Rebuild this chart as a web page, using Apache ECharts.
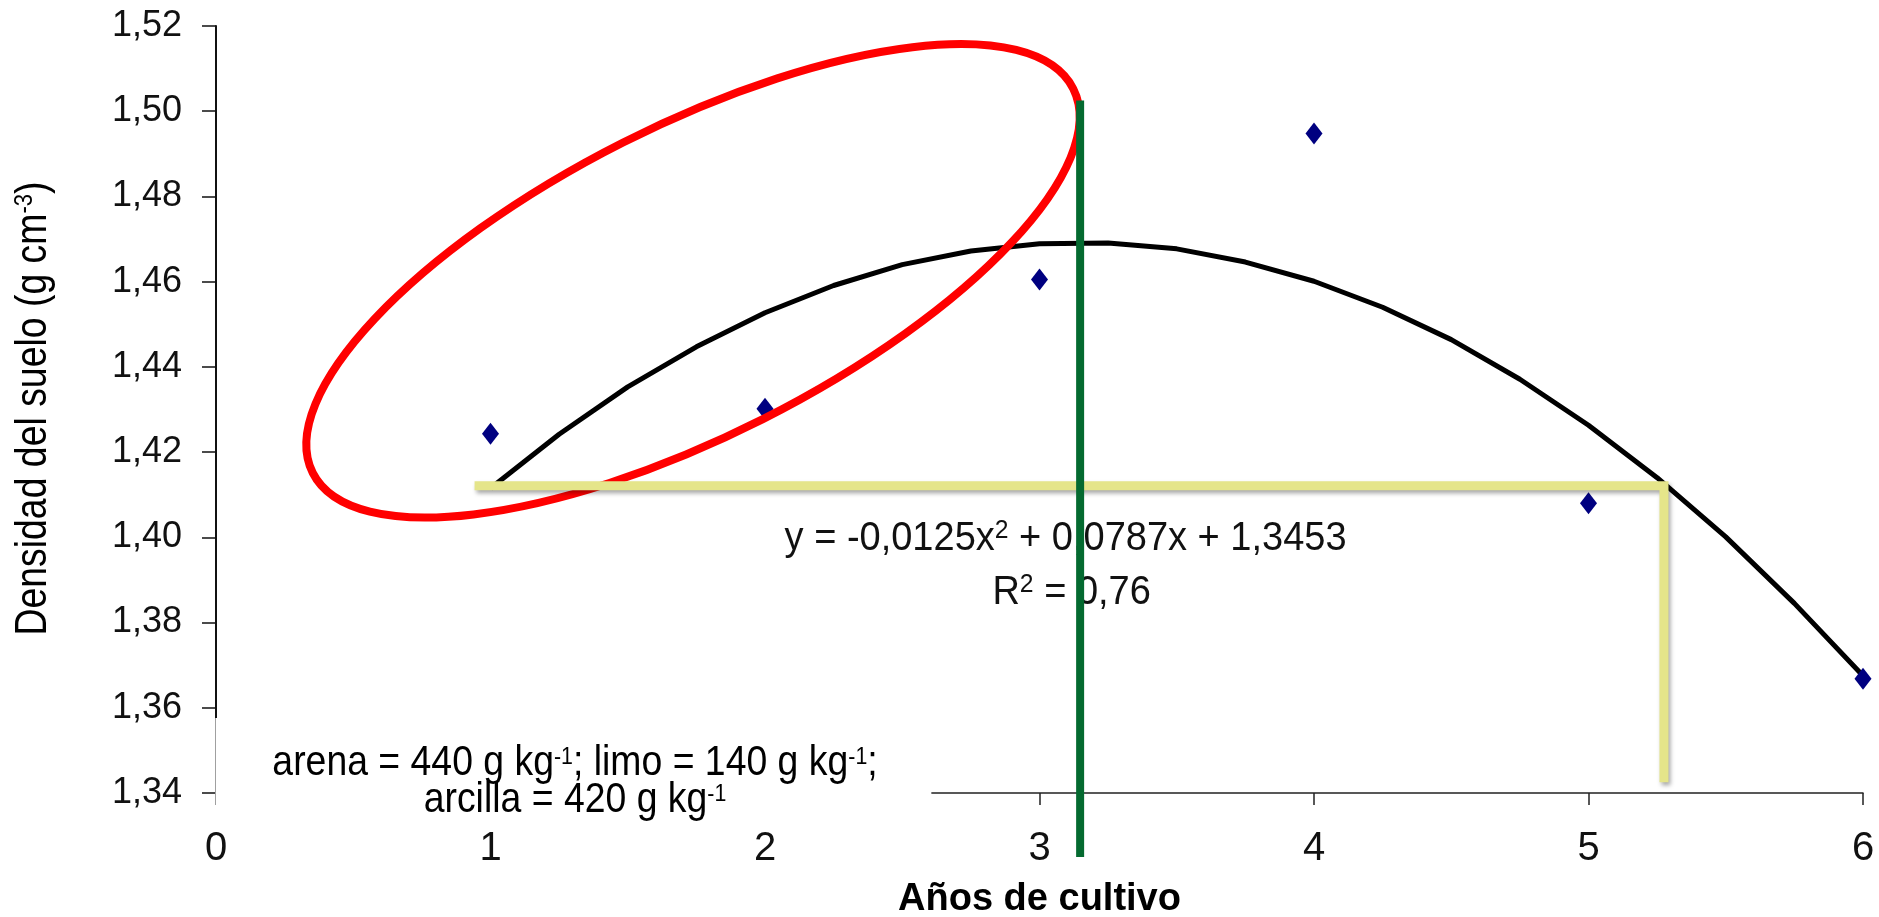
<!DOCTYPE html>
<html>
<head>
<meta charset="utf-8">
<script src="https://cdn.jsdelivr.net/npm/echarts@6/dist/echarts.min.js"></script>
<style>
  html, body { margin: 0; padding: 0; background: #fff; }
  #chart { width: 1879px; height: 917px; }
</style>
</head>
<body>
<div id="chart"></div>
<script>
// ---- data ----
var years   = [1, 2, 3, 4, 5, 6];
var density = [1.4243, 1.4302, 1.4605, 1.4948, 1.4080, 1.3668];

// fitted curve as drawn (read every quarter year)
var trendX = [1, 1.25, 1.5, 1.75, 2, 2.25, 2.5, 2.75, 3, 3.25, 3.5,
              3.75, 4, 4.25, 4.5, 4.75, 5, 5.25, 5.5, 5.75, 6];
var trendY = [1.4115, 1.4242, 1.4353, 1.4447, 1.4527, 1.4591, 1.4640,
              1.4672, 1.4689, 1.4691, 1.4677, 1.4646, 1.4601, 1.4540,
              1.4464, 1.4371, 1.4263, 1.4140, 1.4001, 1.3845, 1.3675];

var xTicks = [0, 1, 2, 3, 4, 5, 6];
var yTicks = [1.34, 1.36, 1.38, 1.40, 1.42, 1.44, 1.46, 1.48, 1.50, 1.52];

// hand-drawn guide lines (data coords)
var greenLine  = [[3.148, 1.5025], [3.148, 1.325]];
var yellowLine = [[0.942, 1.4121], [5.275, 1.4121], [5.275, 1.3425]];

var ellipseCenter = [1.7377, 1.4602];

var chart = echarts.init(document.getElementById('chart'));
var FONT = "'Liberation Sans', Arial, sans-serif";

var option = {
  animation: false,
  backgroundColor: '#fff',
  grid: { left: 216, right: 16, top: 26, bottom: 124, outerBoundsMode: 'none' },
  xAxis: {
    type: 'value',
    min: xTicks[0],
    max: xTicks[xTicks.length - 1],
    interval: 1,
    name: 'Años de cultivo',
    nameLocation: 'middle',
    nameGap: 88,
    nameTextStyle: { fontFamily: FONT, fontSize: 38, fontWeight: 'bold', color: '#000' },
    axisLine: { lineStyle: { color: '#222', width: 1.5 } },
    axisTick: { inside: false, length: 12, lineStyle: { color: '#222', width: 1.5 } },
    axisLabel: { margin: 36, fontFamily: FONT, fontSize: 40, color: '#111' },
    splitLine: { show: false }
  },
  yAxis: {
    type: 'value',
    min: yTicks[0],
    max: yTicks[yTicks.length - 1],
    interval: 0.02,
    axisLine: { lineStyle: { color: '#111', width: 2 } },
    axisTick: { length: 14, lineStyle: { color: '#111', width: 1.5 } },
    axisLabel: {
      margin: 34, fontFamily: FONT, fontSize: 36, color: '#111',
      formatter: function (v) { return v.toFixed(2).replace('.', ','); }
    },
    splitLine: { show: false }
  },
  series: [
    {
      name: 'curva',
      type: 'line',
      data: trendX.map(function (x, i) { return [x, trendY[i]]; }),
      showSymbol: false,
      lineStyle: { color: '#000', width: 5 },
      z: 2
    },
    {
      name: 'densidad',
      type: 'scatter',
      symbol: 'diamond',
      symbolSize: [17, 22],
      itemStyle: { color: '#000080', opacity: 1 },
      data: years.map(function (x, i) { return [x, density[i]]; }),
      z: 3
    },
    {
      name: 'amarilla',
      type: 'line',
      data: yellowLine,
      showSymbol: false,
      clip: false,
      lineStyle: {
        color: '#e5e58a', width: 9, cap: 'butt', join: 'miter',
        shadowColor: 'rgba(0,0,0,0.35)', shadowBlur: 4, shadowOffsetX: 2, shadowOffsetY: 3
      },
      z: 5
    }
  ]
};
chart.setOption(option);

function px(x, y) { return chart.convertToPixel({ gridIndex: 0 }, [x, y]); }

var c = px(ellipseCenter[0], ellipseCenter[1]);
var g0 = px(greenLine[0][0], greenLine[0][1]);
var g1 = px(greenLine[1][0], greenLine[1][1]);
var eq = px(3.095, 1.3997);
var r2 = px(3.117, 1.3870);
var boxTL = px(0, 1.3576);
var boxBR = px(2.606, 1.34);
var yMid = px(0, 1.43);

var supStyle = { fontFamily: FONT, fontSize: 26, fill: '#111', verticalAlign: 'top', padding: [0, 0, 16, 0] };

chart.setOption({
  graphic: [
    {
      type: 'ellipse',
      x: c[0], y: c[1],
      rotation: 26.8 * Math.PI / 180,
      shape: { cx: 0, cy: 0, rx: 426, ry: 155 },
      style: { fill: 'none', stroke: '#ff0000', lineWidth: 8 },
      z: 4
    },
    {
      type: 'line',
      shape: { x1: g0[0], y1: g0[1], x2: g1[0], y2: g1[1] },
      style: { stroke: '#046a30', lineWidth: 8, lineCap: 'butt' },
      z: 8
    },
    {
      type: 'text',
      x: 34, y: yMid[1] - 1,
      rotation: Math.PI / 2,
      scaleX: 0.85,
      style: {
        text: '{t|Densidad del suelo (g cm}{s|-3}{t|)}',
        align: 'center', verticalAlign: 'middle',
        rich: {
          t: { fontFamily: FONT, fontSize: 44, fill: '#000' },
          s: { fontFamily: FONT, fontSize: 26, fill: '#000', verticalAlign: 'top', padding: [0, 0, 18, 0] }
        }
      },
      z: 5
    },
    {
      type: 'text',
      x: eq[0], y: eq[1],
      scaleX: 0.95,
      style: {
        text: '{t|y = -0,0125x}{s|2}{t| + 0,0787x + 1,3453}',
        align: 'center', verticalAlign: 'middle',
        rich: { t: { fontFamily: FONT, fontSize: 40, fill: '#111' }, s: supStyle }
      },
      z: 5
    },
    {
      type: 'text',
      x: r2[0], y: r2[1],
      scaleX: 0.95,
      style: {
        text: '{t|R}{s|2}{t| = 0,76}',
        align: 'center', verticalAlign: 'middle',
        rich: { t: { fontFamily: FONT, fontSize: 40, fill: '#111' }, s: supStyle }
      },
      z: 5
    },
    {
      type: 'rect',
      shape: { x: boxTL[0], y: boxTL[1], width: boxBR[0] - boxTL[0], height: boxBR[1] - boxTL[1] + 19 },
      style: { fill: '#fff' },
      z: 20
    },
    {
      type: 'rect',
      shape: { x: boxTL[0] - 1, y: boxTL[1], width: 1, height: boxBR[1] - boxTL[1] + 12 },
      style: { fill: '#a0a0a0' },
      z: 21
    },
    {
      type: 'text',
      x: 575, y: 782,
      scaleX: 0.89,
      style: {
        text: '{t|arena = 440 g kg}{s|-1}{t|; limo = 140 g kg}{s|-1}{t|;}\n{t|arcilla = 420 g kg}{s|-1}',
        align: 'center', verticalAlign: 'middle',
        rich: {
          t: { fontFamily: FONT, fontSize: 42, fill: '#000', lineHeight: 37 },
          s: { fontFamily: FONT, fontSize: 24, fill: '#000', verticalAlign: 'top', padding: [0, 0, 14, 0], lineHeight: 37 }
        }
      },
      z: 22
    }
  ]
});
</script>
</body>
</html>
